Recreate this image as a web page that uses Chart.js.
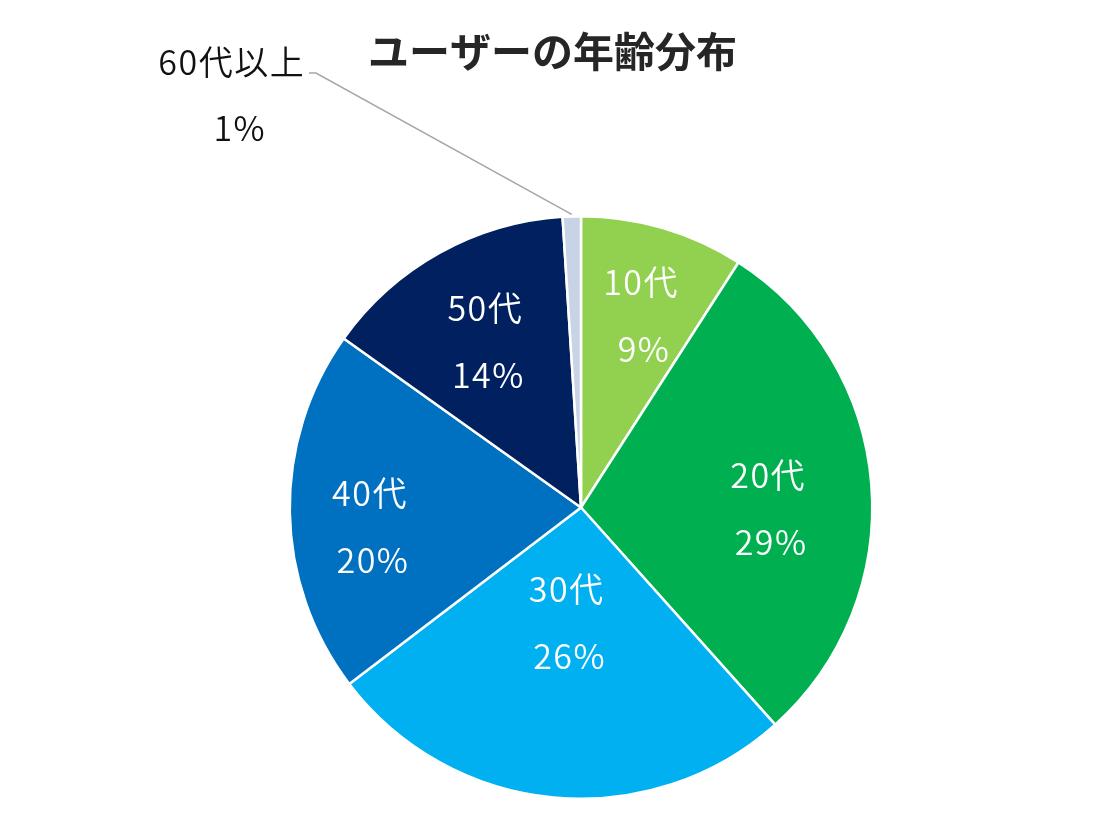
<!DOCTYPE html>
<html lang="ja">
<head>
<meta charset="utf-8">
<title>ユーザーの年齢分布</title>
<script src="https://cdn.jsdelivr.net/npm/chart.js@4/dist/chart.umd.min.js"></script>
<style>
  html, body { margin: 0; padding: 0; background: #ffffff; }
  #wrap { width: 1105px; height: 814px; }
</style>
</head>
<body>
<div id="wrap"><canvas id="chart" width="1105" height="814"></canvas></div>
<script>
// Age groups and their share of users (%)
const categories = ['10代', '20代', '30代', '40代', '50代', '60代以上'];
const shares = [9, 29, 26, 20, 14, 1];
const sliceColors = ['#92D050', '#00B050', '#00B0F0', '#0070C0', '#002060', '#C9D3E6'];

// Where each label sits inside its slice: fraction of the radius and a small angle nudge (degrees)
const labelRadius = [0.69, 0.64, 0.40, 0.73, 0.66, null];
const labelNudge = [0.8, 4.8, 2.0, -4.2, -1.0, 0];

const FONT = '"Noto Sans CJK JP", "Noto Sans", sans-serif';
const LINE_GAP = 67;
const TITLE = 'ユーザーの年齢分布';

function spacedText(ctx, text, x, y) {
  // letterSpacing adds a trailing gap too; shift so the glyphs stay centred
  ctx.fillText(text, x + 0.75, y);
}

const sliceLabels = {
  id: 'sliceLabels',
  afterDatasetsDraw(chart) {
    const ctx = chart.ctx;
    const meta = chart.getDatasetMeta(0);
    const data = chart.data.datasets[0].data;
    ctx.save();

    // Chart title, centred on the page
    ctx.font = '700 41px ' + FONT;
    ctx.textAlign = 'center';
    ctx.textBaseline = 'middle';
    ctx.fillStyle = '#262626';
    ctx.fillText(TITLE, chart.width / 2, 51);

    ctx.font = '350 34px ' + FONT;
    if ('letterSpacing' in ctx) ctx.letterSpacing = '1.5px';
    meta.data.forEach((arc, i) => {
      const p = arc.getProps(['x', 'y', 'startAngle', 'endAngle', 'outerRadius'], true);
      const mid = (p.startAngle + p.endAngle) / 2;
      const name = chart.data.labels[i];
      const pct = data[i] + '%';
      if (labelRadius[i] !== null) {
        const a = mid + labelNudge[i] * Math.PI / 180;
        const r = p.outerRadius * labelRadius[i];
        const cx = p.x + Math.cos(a) * r;
        const cy = p.y + Math.sin(a) * r;
        ctx.fillStyle = '#ffffff';
        spacedText(ctx, name, cx, cy - LINE_GAP / 2);
        spacedText(ctx, pct, cx + 3, cy + LINE_GAP / 2);
      } else {
        // Small slice: label outside with a leader line to the rim
        const tx = 231, ty = 62;
        ctx.fillStyle = '#111111';
        spacedText(ctx, name, tx, ty);
        spacedText(ctx, pct, tx + 8, ty + 66);
        const ex = p.x + Math.cos(mid) * (p.outerRadius + 2);
        const ey = p.y + Math.sin(mid) * (p.outerRadius + 2);
        ctx.strokeStyle = '#A6A6A6';
        ctx.lineWidth = 1.5;
        ctx.beginPath();
        ctx.moveTo(309, 73);
        ctx.lineTo(316, 73);
        ctx.lineTo(ex, ey);
        ctx.stroke();
      }
    });
    ctx.restore();
  }
};

new Chart(document.getElementById('chart'), {
  type: 'pie',
  data: {
    labels: categories,
    datasets: [{
      data: shares,
      backgroundColor: sliceColors,
      borderColor: '#ffffff',
      borderWidth: 2.5
    }]
  },
  options: {
    responsive: false,
    animation: false,
    layout: { padding: { top: 215, bottom: 14, left: 57, right: 0 } },
    plugins: {
      legend: { display: false },
      tooltip: { enabled: false },
      title: { display: false }
    }
  },
  plugins: [sliceLabels]
});
</script>
</body>
</html>
